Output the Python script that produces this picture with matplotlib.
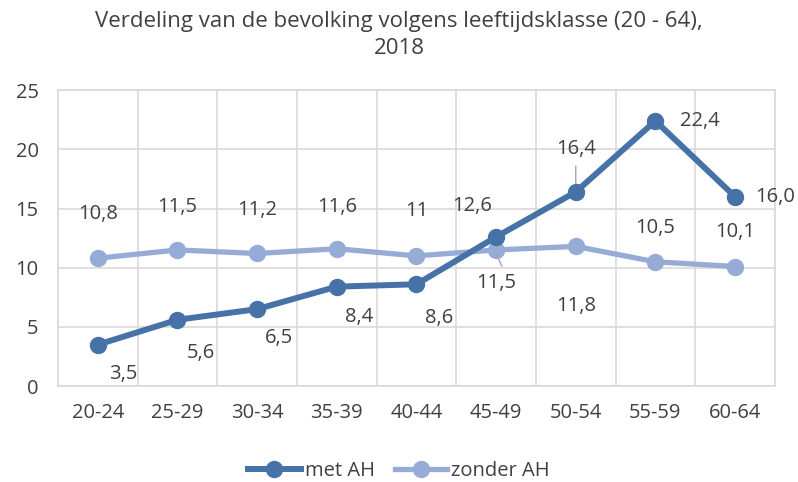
import matplotlib.pyplot as plt
import numpy as np

plt.rcParams['font.family'] = ['Open Sans', 'DejaVu Sans']

leeftijd = ["20-24", "25-29", "30-34", "35-39", "40-44", "45-49", "50-54", "55-59", "60-64"]
met_ah = [3.5, 5.6, 6.5, 8.4, 8.6, 12.6, 16.4, 22.4, 16.0]
zonder_ah = [10.8, 11.5, 11.2, 11.6, 11.0, 11.5, 11.8, 10.5, 10.1]
met_labels = ["3,5", "5,6", "6,5", "8,4", "8,6", "12,6", "16,4", "22,4", "16,0"]
zonder_labels = ["10,8", "11,5", "11,2", "11,6", "11", "11,5", "11,8", "10,5", "10,1"]

# label offsets in points (dx, dy) relative to the marker
met_off = [(18, -21), (17, -24), (16, -21), (16, -22), (16, -24), (-17, 22), (0, 31), (32, 0), (29, 0)]
zonder_off = [(0, 32), (0, 31), (0, 31), (0, 30), (0, 32), (0, -24), (0, -43), (0, 24), (0, 25)]

donker = "#4672a8"
licht = "#96abd5"
grijs = "#d9d9d9"
tekst = "#404040"

fig = plt.figure(figsize=(7.98, 4.82), dpi=100)
ax = fig.add_axes([0.0727, 0.199, 0.8983, 0.614])

x = np.arange(len(leeftijd))
ax.plot(x, met_ah, color=donker, lw=4.3, marker="o", ms=11.5, label="met AH", zorder=4)
ax.plot(x, zonder_ah, color=licht, lw=3.8, marker="o", ms=11.5, label="zonder AH", zorder=3)

for i in range(len(x)):
    ax.annotate(met_labels[i], (x[i], met_ah[i]), xytext=met_off[i], textcoords="offset points",
                ha="center", va="center", fontsize=14.5, color=tekst)
    ax.annotate(zonder_labels[i], (x[i], zonder_ah[i]), xytext=zonder_off[i], textcoords="offset points",
                ha="center", va="center", fontsize=14.5, color=tekst)

# leader lines
ax.annotate("", (x[6], met_ah[6] + 0.3), xytext=(0, 18), textcoords="offset points",
            arrowprops=dict(arrowstyle="-", color="#a6a6a6", lw=1))
ax.annotate("", (x[5], zonder_ah[5] - 0.3), xytext=(5, -11), textcoords="offset points",
            arrowprops=dict(arrowstyle="-", color="#a6a6a6", lw=1))

ax.set_xlim(-0.5, len(x) - 0.5)
ax.set_ylim(0, 25)
ax.set_yticks([0, 5, 10, 15, 20, 25])
ax.set_xticks(x)
ax.set_xticklabels(leeftijd)
ax.set_xticks(np.arange(-0.5, len(x), 1), minor=True)
ax.grid(True, which="major", axis="y", color=grijs, lw=1.2)
ax.grid(True, which="minor", axis="x", color=grijs, lw=1.2)
ax.tick_params(which="both", length=0, labelsize=14.5, colors=tekst)
ax.tick_params(axis="x", pad=12)
ax.tick_params(axis="y", pad=14)
for s in ax.spines.values():
    s.set_color(grijs)
    s.set_linewidth(1.2)
ax.set_axisbelow(True)

fig.suptitle("Verdeling van de bevolking volgens leeftijdsklasse (20 - 64),\n2018",
             y=0.978, fontsize=16, color=tekst, linespacing=1.4)

fig.legend(loc="lower center", bbox_to_anchor=(0.5, -0.035), ncol=2, frameon=False,
           fontsize=14.5, handlelength=2.6, columnspacing=1.0, handletextpad=0.2,
           labelcolor=tekst)

fig.savefig("out.png", dpi=100)
